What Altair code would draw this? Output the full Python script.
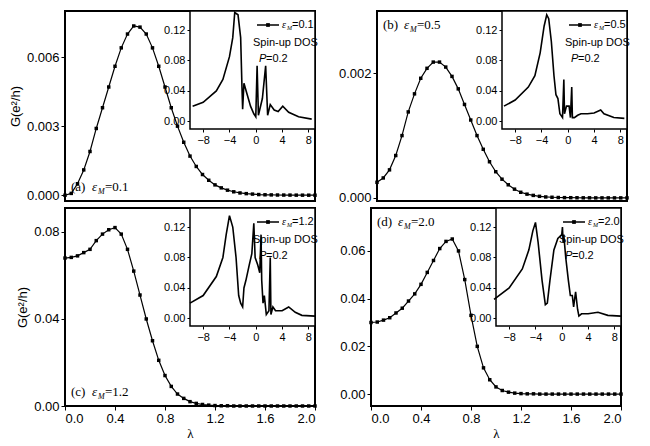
import altair as alt
import pandas as pd

lam = [round(i * 0.05, 2) for i in range(41)]

g_a = [0, 0.08, 0.5, 1.1, 1.9, 2.9, 3.8, 4.7, 5.6, 6.4, 7.0, 7.35, 7.3, 7.0, 6.4, 5.6,
       4.7, 3.8, 3.0, 2.3, 1.7, 1.25, 0.9, 0.65, 0.45, 0.32, 0.22, 0.15, 0.1, 0.07,
       0.05, 0.03, 0.02, 0.015, 0.01, 0.008, 0.006, 0.004, 0.003, 0.002, 0.001]
g_a = [v * 1e-3 for v in g_a]
g_b = [0.25, 0.32, 0.45, 0.68, 1.0, 1.38, 1.67, 1.92, 2.08, 2.18, 2.18, 2.1, 1.95, 1.75,
       1.5, 1.25, 1.0, 0.78, 0.58, 0.42, 0.3, 0.21, 0.14, 0.09, 0.06, 0.04, 0.025, 0.015,
       0.01, 0.006, 0.004, 0.003, 0.002, 0.001, 0.001, 0, 0, 0, 0, 0, 0]
g_b = [v * 1e-3 for v in g_b]
g_c = [0.068, 0.0683, 0.069, 0.0705, 0.072, 0.076, 0.079, 0.081, 0.082, 0.079, 0.072,
       0.062, 0.051, 0.040, 0.030, 0.021, 0.014, 0.009, 0.0055, 0.0035, 0.002, 0.0012,
       0.0007, 0.0004, 0.0002, 0.0001, 0.0001, 0, 0, 0, 0, 0, 0, 0, 0, 0, 0, 0, 0, 0, 0]
g_d = [0.030, 0.0302, 0.031, 0.032, 0.034, 0.036, 0.039, 0.042, 0.046, 0.051, 0.056,
       0.061, 0.064, 0.065, 0.060, 0.048, 0.033, 0.020, 0.011, 0.006, 0.003, 0.0015,
       0.0008, 0.0004, 0.0002, 0.0001, 0.0001, 0, 0, 0, 0, 0, 0, 0, 0, 0, 0, 0, 0, 0, 0]

e_a = [-9.6, -8, -6, -5, -4, -3.5, -3.2, -2.7, -2.3, -2.1, -2.0, -1.8, -1.3, -0.8, -0.3,
       0, 0.2, 0.4, 1.0, 1.5, 1.8, 2.2, 2.8, 3.4, 4.1, 5, 6.5, 8.5]
d_a = [0.02, 0.025, 0.04, 0.055, 0.085, 0.11, 0.143, 0.14, 0.11, 0.045, 0.016, 0.05,
       0.035, 0.02, 0.01, 0.006, 0.073, 0.008, 0.03, 0.073, 0.008, 0.022, 0.015, 0.013,
       0.02, 0.012, 0.006, 0.003]
e_b = [-9.7, -8, -6, -5, -4.2, -3.6, -3.2, -2.9, -2.5, -2.1, -1.8, -1.5, -1.2, -0.8,
       -0.6, -0.5, -0.2, 0.2, 0.4, 0.6, 0.7, 1.0, 1.5, 2, 3, 4, 5, 5.5, 7, 8.6]
d_b = [0.02, 0.028, 0.045, 0.06, 0.09, 0.125, 0.14, 0.135, 0.105, 0.06, 0.035, 0.03,
       0.01, 0.005, 0.055, 0.01, 0.02, 0.02, 0.005, 0.045, 0.005, 0.005, 0.008, 0.01,
       0.01, 0.011, 0.015, 0.01, 0.005, 0.004]
e_c = [-10, -8, -6, -5, -4.5, -4, -3.5, -3, -2.6, -2.3, -2, -1.8, -1.5, -1, -0.6, -0.3,
       -0.1, 0.3, 0.6, 0.8, 0.9, 1.1, 1.3, 1.6, 2, 2.2, 2.3, 2.6, 3, 4, 5, 6, 7, 9]
d_c = [0.02, 0.03, 0.055, 0.08, 0.11, 0.135, 0.12, 0.08, 0.03, 0.02, 0.015, 0.04, 0.05,
       0.07, 0.085, 0.125, 0.08, 0.07, 0.06, 0.11, 0.05, 0.02, 0.03, 0.005, 0.01, 0.08,
       0.005, 0.015, 0.01, 0.01, 0.015, 0.008, 0.004, 0.003]
e_d = [-10.3, -8, -6, -5, -4.4, -4, -3.6, -3, -2.5, -2.2, -1.8, -1.2, -0.6, 0, 0.1, 0.2,
       0.3, 0.6, 1, 1.3, 1.6, 1.8, 2.1, 2.4, 2.6, 3, 4, 5.5, 7, 9]
d_d = [0.025, 0.04, 0.065, 0.09, 0.115, 0.126, 0.10, 0.05, 0.018, 0.02, 0.05, 0.09,
       0.105, 0.11, 0.12, 0.1, 0.11, 0.08, 0.05, 0.03, 0.03, 0.015, 0.035, 0.012, 0.003,
       0.006, 0.006, 0.008, 0.004, 0.003]

W = 250
FONT = "Liberation Sans"
SERIF = "Liberation Serif"
IX0, IY1 = 125, 118  # inset box in panel pixels


def txt(s, x, y, size=11, font=FONT, italic=False):
    return alt.Chart(pd.DataFrame({"t": [s]})).mark_text(
        align="left", baseline="middle", fontSize=size, font=font,
        fontStyle="italic" if italic else "normal", color="black"
    ).encode(text="t:N", x=alt.value(x), y=alt.value(y))


def eps_label(prefix, val, x, y):
    # "(a) ε_M=0.1" with a subscript M
    return [
        txt(prefix, x, y, 13, SERIF),
        txt("ε", x + 21, y, 13, SERIF, True),
        txt("M", x + 27, y + 5, 8, SERIF, True),
        txt("=" + val, x + 34, y, 13, SERIF),
    ]


def panel(g, e, d, ydom, yvals, yfmt, prefix, val, H, bottom, left, label_top):
    base = alt.Chart(pd.DataFrame({"lam": lam, "g": g})).encode(
        x=alt.X("lam:Q", scale=alt.Scale(domain=[0, 2], nice=False),
                axis=alt.Axis(values=[0, 0.4, 0.8, 1.2, 1.6, 2.0], format=".1f",
                              labels=bottom, ticks=bottom, domain=False,
                              title="λ" if bottom else None, titleFontWeight="normal",
                              titleFont=SERIF, titleFontSize=13, tickSize=4,
                              titlePadding=2)),
        y=alt.Y("g:Q", scale=alt.Scale(domain=ydom, nice=False, zero=False),
                axis=alt.Axis(values=yvals, format=yfmt, domain=False, tickSize=4,
                              title="G(e²/h)" if left else None,
                              titleFontWeight="normal", titleFontSize=13)),
    )
    main = alt.layer(
        base.mark_line(color="black", strokeWidth=1.2),
        base.mark_square(color="black", size=12, opacity=1),
    )
    box = alt.Chart(pd.DataFrame({"a": [0]})).mark_rect(
        fill="white", stroke="black", strokeWidth=1.5
    ).encode(x=alt.value(IX0), x2=alt.value(W), y=alt.value(0), y2=alt.value(IY1))
    inset = alt.Chart(pd.DataFrame({"e": e, "d": d})).mark_line(
        color="black", strokeWidth=1.6
    ).encode(
        x=alt.X("e:Q", scale=alt.Scale(domain=[-10, 9], range=[IX0, W], nice=False),
                axis=alt.Axis(orient="bottom", offset=IY1 - H, values=[-8, -4, 0, 4, 8],
                              title=None, domain=False, tickSize=3, labelFontSize=11)),
        y=alt.Y("d:Q", scale=alt.Scale(domain=[-0.01, 0.145], range=[IY1, 0], nice=False,
                                       zero=False),
                axis=alt.Axis(orient="left", offset=-IX0, values=[0, 0.04, 0.08, 0.12],
                              format=".2f", title=None, domain=False, tickSize=3,
                              labelFontSize=11)),
    )
    leg_line = alt.Chart(pd.DataFrame({"a": [0]})).mark_rule(
        color="black", strokeWidth=1.5
    ).encode(x=alt.value(192), x2=alt.value(214), y=alt.value(14))
    leg_pt = alt.Chart(pd.DataFrame({"a": [0]})).mark_square(
        color="black", size=14, opacity=1
    ).encode(x=alt.value(203), y=alt.value(14))
    layers = [main, box, inset, leg_line, leg_pt]
    layers += [
        txt("ε", 217, 14, 10, SERIF, True),
        txt("M", 222, 17, 6, SERIF, True),
        txt("=" + val, 227, 14, 11),
        txt("Spin-up DOS", 188, 32, 11),
        txt("P", 194, 48, 11, FONT, True),
        txt("=0.2", 201, 48, 11),
    ]
    ly = 14 if label_top else H - 14
    layers += eps_label(prefix, val, 6, ly)
    return alt.layer(*layers).resolve_scale(x="independent", y="independent").properties(
        width=W, height=H)


pa = panel(g_a, e_a, d_a, [-0.00025, 0.008], [0, 0.003, 0.006], ".3f", "(a)", "0.1",
           190, False, True, False)
pb = panel(g_b, e_b, d_b, [-0.00005, 0.003], [0, 0.002], ".3f", "(b)", "0.5",
           190, False, False, True)
pc = panel(g_c, e_c, d_c, [0, 0.091], [0, 0.04, 0.08], ".2f", "(c)", "1.2",
           198, True, True, False)
pd_ = panel(g_d, e_d, d_d, [-0.005, 0.078], [0, 0.02, 0.04, 0.06], ".2f", "(d)", "2.0",
            198, True, False, True)

chart = alt.vconcat(
    alt.hconcat(pa, pb, spacing=18),
    alt.hconcat(pc, pd_, spacing=18),
    spacing=0,
).properties(padding=0).configure_view(stroke="black", strokeWidth=2).configure_axis(
    grid=False, labelFont=FONT, labelFontSize=13, titleFont=FONT, labelColor="black",
    tickColor="black", titleColor="black"
)

chart.save("out.html", embed_options={"renderer": "svg", "actions": False})
